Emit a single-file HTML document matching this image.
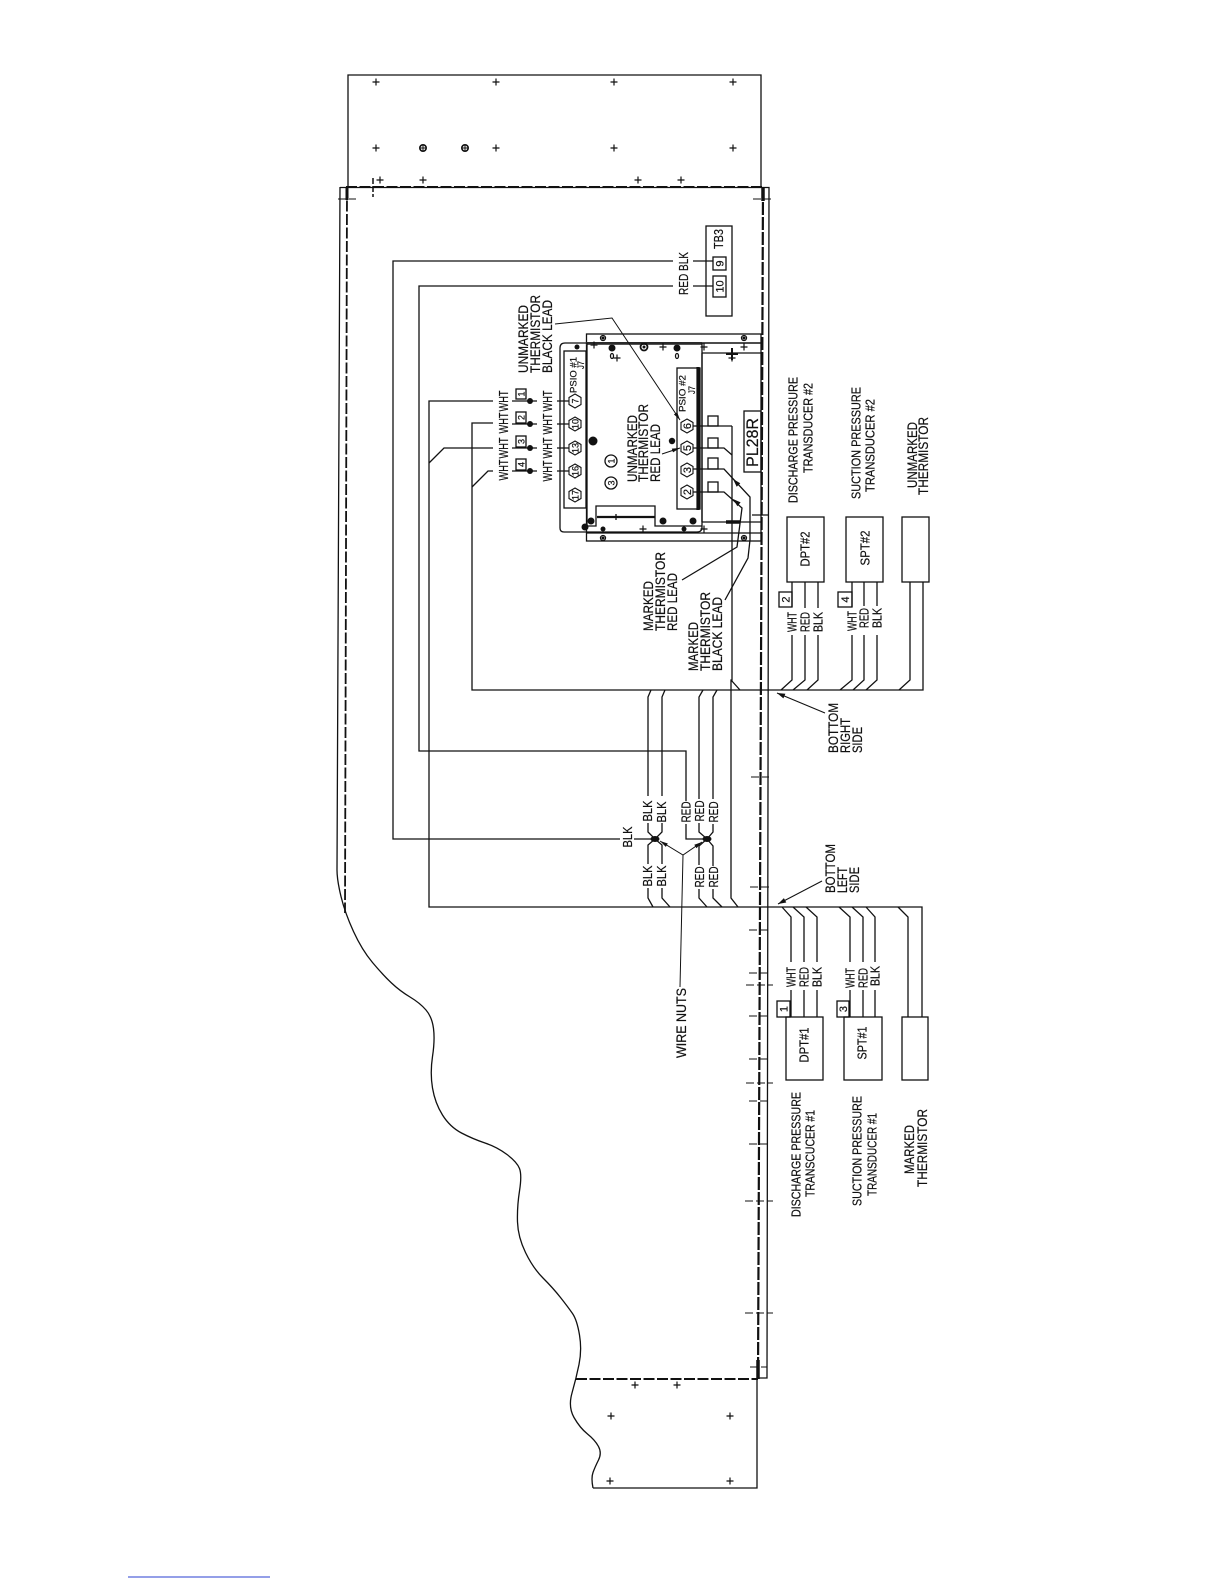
<!DOCTYPE html>
<html><head><meta charset="utf-8"><style>
html,body{margin:0;padding:0;background:#fff}
svg{display:block}
text{font-family:"Liberation Sans",sans-serif;fill:#111;stroke:#111;stroke-width:.2px}
.b{font-size:13.5px}.m{font-size:13px}.n{font-size:9px}.c{font-size:11px}
</style></head><body>
<svg width="1225" height="1585" viewBox="0 0 1225 1585" xmlns="http://www.w3.org/2000/svg">
<defs>
<path id="hx" d="M0,-7 L6,-3.5 V3.5 L0,7 L-6,3.5 V-3.5 Z" fill="#fff" stroke="#111" stroke-width="1.1"/>
<path id="pl" d="M-3.5,0H3.5M0,-3.5V3.5" stroke="#111" stroke-width="1.2" fill="none"/>
</defs>
<rect width="1225" height="1585" fill="#fff"/>
<g fill="none" stroke="#111" stroke-width="1.3">
<!-- top and bottom panels -->
<path d="M348,187V75H761V187"/>
<path d="M593,1488H757V1380"/>
<!-- main outlines -->
<path d="M340,187L337,870Q337,880 341,896.5Q345,913 353.5,931.5Q362,950 372.5,962.5Q383,975 391.5,983Q400,991 410,997Q420,1003 426,1010Q432,1017 433.5,1028.5Q435,1040 432.5,1056.5Q430,1073 432.5,1088Q435,1103 442.5,1115Q450,1127 461.5,1133Q473,1139 485,1143Q497,1147 507,1154.5Q517,1162 519.5,1168.5Q522,1175 519.5,1191Q517,1207 517.5,1222Q518,1237 525.5,1252.5Q533,1268 543,1278Q553,1288 560.5,1297.5Q568,1307 572.5,1313.5Q577,1320 579.5,1335Q582,1350 579,1364.5Q576,1379 572,1393Q568,1407 574,1417.5Q580,1428 587.5,1434Q595,1440 598.5,1446.5Q602,1453 598.5,1460Q595,1467 593,1472.5Q591,1478 593,1488"/>
<path d="M340,187.500H769L767,1378H758"/>
<path d="M347,187L345,913" stroke-width="1.8" stroke-dasharray="11 2.500"/>
<path d="M346,187H763" stroke-width="2" stroke-dasharray="11 2.500"/>
<path d="M763,187L758,1379" stroke-width="2.2" stroke-dasharray="13 2"/>
<path d="M576,1379H758" stroke-width="2" stroke-dasharray="11 2.500"/>
<path d="M763,187V201M758,1360V1379" stroke-width="3.500"/>
<path d="M347,187V200" stroke-width="3"/>
<!-- ticks -->
<g stroke-width="1.1" stroke-dasharray="8 3">
<path d="M373,178V197" stroke-width="1.500" stroke-dasharray="6 2"/>
<path d="M338,199H356M753,199H771"/>
<path d="M751,777H769M750,887H769M749,930H769M749,973H769M746,985H773"/>
<path d="M749,1016H769M749,1059H769M746,1083H773M749,1101H769M749,1144H769M745,1201H773M745,1313H773M750,1367H767"/>
</g>
<!-- TB3 -->
<rect x="706" y="226" width="26" height="90"/>
<rect x="713" y="257" width="13" height="13"/>
<rect x="713" y="276" width="13" height="21"/>
<path d="M713,261H693M673,261H393V839H620M634,839H648L655,839"/>
<path d="M713,286H693M673,286H419V751H686V801M686,824V839H707"/>
<!-- WHT wires -->
<path d="M493,401H429V907H922V1017"/>
<path d="M493,423H472V690H923V582"/>
<path d="M493,448H444L429,463"/>
<path d="M493,471H488L472,487"/>
<path d="M512,401H537M512,424H537M512,448H537M512,471H537"/>
<path d="M557,401H569M557,424H569M557,448H569M557,471H569"/>
<rect x="516" y="389" width="10" height="10"/>
<rect x="516" y="412" width="10" height="11"/>
<rect x="516" y="436" width="10" height="11"/>
<rect x="516" y="459" width="10" height="11"/>
<!-- splice wires -->
<path d="M651,690L648,697V796M648,823V832L655,839L662,832V823M662,796V697L665,690"/>
<path d="M655,839L648,845V864M648,888V898L653,907M655,839L662,845V864M662,888V898L670,907"/>
<path d="M703,690L699,697V799M699,823V832L707,839L713,832V824M713,799V697L717,690"/>
<path d="M707,839L699,846V865M699,889V898L707,907M707,839L713,846V866M713,889V898L722,907"/>
<path d="M732,426V680L731,680V898L738,907M731,680L740,690"/>
<!-- right side device wires (upper) -->
<path d="M792,582V607M792,635V680L781,690M805,582V608M805,635V680L793,690M818,582V608M818,635V680L807,690"/>
<path d="M852,582V607M852,635V680L840,690M864,582V606M864,635V680L853,690M877,582V606M877,635V680L866,690"/>
<path d="M910,582V680L899,690"/>
<!-- lower -->
<path d="M782,907L791,917V962M791,990V1017M793,907L804,917V962M804,990V1017M806,907L817,917V962M817,990V1017"/>
<path d="M839,907L850,917V962M850,990V1017M852,907L863,917V962M863,990V1017M866,907L875,917V962M875,990V1017"/>
<path d="M898,907L908,917V1017"/>
<!-- device boxes -->
<rect x="787" y="517" width="37" height="65"/>
<rect x="846" y="517" width="37" height="65"/>
<rect x="902" y="517" width="27" height="65"/>
<rect x="786" y="1017" width="37" height="63"/>
<rect x="844" y="1017" width="38" height="63"/>
<rect x="902" y="1017" width="26" height="63"/>
<rect x="779" y="592" width="13" height="15"/>
<rect x="838" y="592" width="14" height="15"/>
<rect x="777" y="1001" width="13" height="16"/>
<rect x="837" y="1001" width="12" height="16"/>
<!-- plate -->
<rect x="586.500" y="334" width="174.500" height="207"/>
<path d="M586,343H761" stroke-width="1.5"/>
<path d="M586,343.500H702" stroke="#555" stroke-width="3"/>
<path d="M702,353H761M702,353V522M702,522H761M586,533H761"/>
<path d="M702,343H565Q560,343 560,348V528Q560,532 564,532H697Q702,532 702,527V343"/>
<path d="M587,343V526H596V506H655V526H702"/>
<path d="M597,517H655" stroke-width="2.2"/>
<path d="M616,514V520M752,515H768"/>
<rect x="564" y="351" width="22" height="157"/>
<rect x="677" y="368" width="23" height="141"/>
<path d="M698,367V510" stroke-width="3.200"/>
<rect x="744" y="411" width="17" height="61"/>
<!-- terminals -->
<rect x="708" y="416" width="10" height="10"/>
<rect x="708" y="438" width="10" height="10"/>
<rect x="708" y="458" width="10" height="11"/>
<rect x="708" y="482" width="10" height="10"/>
<path d="M692,426H732"/>
<path d="M692,448H724L732,455"/>
<path d="M692,469H724L750,497V540L748,558L725,600"/>
<path d="M692,492H724L742,508L737,547L682,580"/>
<!-- leaders -->
<path d="M555,324L612,318L680,420" stroke-width="1"/>
<path d="M662,454L680,448" stroke-width="1"/>
<path d="M825,713L777,693M822,881L778,904" stroke-width="1.100"/>
<path d="M660,841L683,855L702,842M683,855L680,987" stroke-width="1"/>
<circle cx="611" cy="461" r="6"/>
<circle cx="611" cy="483" r="6"/>
<circle cx="603" cy="338" r="2.500"/><circle cx="744" cy="338" r="2.500"/>
<circle cx="603" cy="538" r="2.500"/><circle cx="744" cy="538" r="2.500"/>
<circle cx="644" cy="347" r="3.500" stroke-width="1.800"/>
<circle cx="423" cy="148" r="3.200" stroke-width="1.600"/><circle cx="465" cy="148" r="3.200" stroke-width="1.600"/>
<path d="M419.800,148H426.200M461.800,148H468.200M423,145V151M465,145V151" stroke-width="1"/>
<ellipse cx="612" cy="356" rx="1.500" ry="2.500"/><ellipse cx="677" cy="356" rx="1.500" ry="2.500"/>
</g>
<!-- crosses -->
<use href="#pl" x="376" y="82"/><use href="#pl" x="496" y="82"/><use href="#pl" x="614" y="82"/><use href="#pl" x="733" y="82"/>
<use href="#pl" x="376" y="148"/><use href="#pl" x="496" y="148"/><use href="#pl" x="614" y="148"/><use href="#pl" x="733" y="148"/>
<use href="#pl" x="380" y="180"/><use href="#pl" x="423" y="180"/><use href="#pl" x="638" y="180"/><use href="#pl" x="681" y="180"/>
<use href="#pl" x="635" y="1385"/><use href="#pl" x="677" y="1385"/>
<use href="#pl" x="611" y="1416"/><use href="#pl" x="730" y="1416"/>
<use href="#pl" x="610" y="1481"/><use href="#pl" x="730" y="1481"/>
<use href="#pl" x="594" y="345"/><use href="#pl" x="663" y="347"/><use href="#pl" x="704" y="347"/><use href="#pl" x="617" y="358"/><use href="#pl" x="744" y="347"/><use href="#pl" x="732" y="358"/>
<use href="#pl" x="643" y="529"/><use href="#pl" x="704" y="529"/>
<path d="M726,354H738M732,348V360" stroke="#111" stroke-width="2" fill="none"/>
<path d="M726,522H740" stroke="#111" stroke-width="3.500" fill="none"/>
<!-- dots -->
<g fill="#111">
<circle cx="530" cy="401" r="3"/><circle cx="530" cy="424" r="3"/><circle cx="530" cy="448" r="3"/><circle cx="530" cy="471" r="3"/>
<circle cx="593" cy="441" r="4.500"/><circle cx="672" cy="441" r="3.200"/>
<circle cx="577" cy="347" r="2.500"/><circle cx="612" cy="348" r="3.500"/><circle cx="677" cy="348" r="3.500"/>
<circle cx="644" cy="347" r="1.500"/>
<circle cx="591" cy="521" r="3.500"/><circle cx="585" cy="527" r="3.500"/><circle cx="663" cy="521" r="3.500"/><circle cx="693" cy="521" r="3.500"/>
<circle cx="603" cy="529" r="2.500"/><circle cx="684" cy="529" r="2.500"/>
<circle cx="603" cy="338" r="1.500"/><circle cx="744" cy="338" r="1.500"/><circle cx="603" cy="538" r="1.500"/><circle cx="744" cy="538" r="1.500"/>
<ellipse cx="655" cy="839" rx="4.500" ry="3"/><ellipse cx="707" cy="839" rx="4.500" ry="3"/>
<polygon points="680,420 677.2,412.2 673.900,414.4"/>
<polygon points="680,448 673,452.4 671.800,448.6"/>
<polygon points="777,693 785.4,693.800 783.400,698.400"/>
<polygon points="778,904 786.300,902.5 783.900,898.1"/>
<polygon points="660,841 667.800,843.5 665.800,846.900"/>
<polygon points="702,842 696.500,848.200 694.300,844.800"/>
<polygon points="733,479 740.300,483.300 736.700,486.700"/>
<polygon points="733,499 740.600,502.400 737.400,506.200"/>
</g>
<!-- hexes -->
<use href="#hx" x="575" y="401"/><use href="#hx" x="575" y="424"/><use href="#hx" x="575" y="448"/><use href="#hx" x="575" y="471"/><use href="#hx" x="575" y="495"/>
<use href="#hx" x="687" y="426"/><use href="#hx" x="687" y="448"/><use href="#hx" x="687" y="470"/><use href="#hx" x="687" y="492"/>
<!-- hex numbers -->
<g class="n">
<text transform="translate(578.500,401) rotate(-90)" text-anchor="middle">7</text>
<text transform="translate(578.500,424) rotate(-90)" text-anchor="middle">10</text>
<text transform="translate(578.500,448) rotate(-90)" text-anchor="middle">13</text>
<text transform="translate(578.500,471) rotate(-90)" text-anchor="middle">16</text>
<text transform="translate(578.500,495) rotate(-90)" text-anchor="middle">17</text>
<text transform="translate(691,426) rotate(-90)" text-anchor="middle" font-size="11">6</text>
<text transform="translate(691,448) rotate(-90)" text-anchor="middle" font-size="11">5</text>
<text transform="translate(691,470) rotate(-90)" text-anchor="middle" font-size="11">3</text>
<text transform="translate(691,492) rotate(-90)" text-anchor="middle" font-size="11">2</text>
<text transform="translate(614.500,461) rotate(-90)" text-anchor="middle">1</text>
<text transform="translate(614.500,483) rotate(-90)" text-anchor="middle">3</text>
<text transform="translate(524.500,394) rotate(-90)" text-anchor="middle">1</text>
<text transform="translate(524.500,417.500) rotate(-90)" text-anchor="middle">2</text>
<text transform="translate(524.500,441.500) rotate(-90)" text-anchor="middle">3</text>
<text transform="translate(524.500,464.500) rotate(-90)" text-anchor="middle">4</text>
<text transform="translate(576.500,375) rotate(-90)" text-anchor="middle" textLength="36" lengthAdjust="spacingAndGlyphs">PSIO #1</text>
<text transform="translate(584,365) rotate(-90)" text-anchor="middle" textLength="8" lengthAdjust="spacingAndGlyphs">J7</text>
<text transform="translate(685.500,393.500) rotate(-90)" text-anchor="middle" textLength="37" lengthAdjust="spacingAndGlyphs">PSIO #2</text>
<text transform="translate(695,390) rotate(-90)" text-anchor="middle" textLength="8" lengthAdjust="spacingAndGlyphs">J7</text>
</g>
<g class="c">
<text transform="translate(723.500,263.500) rotate(-90)" text-anchor="middle">9</text>
<text transform="translate(723.500,286.500) rotate(-90)" text-anchor="middle">10</text>
<text transform="translate(789.500,599.500) rotate(-90)" text-anchor="middle">2</text>
<text transform="translate(849,599.500) rotate(-90)" text-anchor="middle">4</text>
<text transform="translate(787.500,1009) rotate(-90)" text-anchor="middle">1</text>
<text transform="translate(847,1009) rotate(-90)" text-anchor="middle">3</text>
</g>
<!-- small labels -->
<g class="m">
<text transform="translate(723,239) rotate(-90)" text-anchor="middle" textLength="20" lengthAdjust="spacingAndGlyphs">TB3</text>
<text transform="translate(688,273.500) rotate(-90)" text-anchor="middle" textLength="43" lengthAdjust="spacingAndGlyphs">RED BLK</text>
<text transform="translate(632,837) rotate(-90)" text-anchor="middle" textLength="21" lengthAdjust="spacingAndGlyphs">BLK</text>

<text transform="translate(508,401) rotate(-90)" text-anchor="middle" textLength="21" lengthAdjust="spacingAndGlyphs">WHT</text>
<text transform="translate(508,423) rotate(-90)" text-anchor="middle" textLength="21" lengthAdjust="spacingAndGlyphs">WHT</text>
<text transform="translate(508,448) rotate(-90)" text-anchor="middle" textLength="21" lengthAdjust="spacingAndGlyphs">WHT</text>
<text transform="translate(508,470) rotate(-90)" text-anchor="middle" textLength="21" lengthAdjust="spacingAndGlyphs">WHT</text>
<text transform="translate(552,401) rotate(-90)" text-anchor="middle" textLength="21" lengthAdjust="spacingAndGlyphs">WHT</text>
<text transform="translate(552,424) rotate(-90)" text-anchor="middle" textLength="21" lengthAdjust="spacingAndGlyphs">WHT</text>
<text transform="translate(552,448) rotate(-90)" text-anchor="middle" textLength="21" lengthAdjust="spacingAndGlyphs">WHT</text>
<text transform="translate(552,471) rotate(-90)" text-anchor="middle" textLength="21" lengthAdjust="spacingAndGlyphs">WHT</text>

<text transform="translate(652,811) rotate(-90)" text-anchor="middle" textLength="21" lengthAdjust="spacingAndGlyphs">BLK</text>
<text transform="translate(666,812) rotate(-90)" text-anchor="middle" textLength="21" lengthAdjust="spacingAndGlyphs">BLK</text>
<text transform="translate(690.500,812) rotate(-90)" text-anchor="middle" textLength="21" lengthAdjust="spacingAndGlyphs">RED</text>
<text transform="translate(704,811) rotate(-90)" text-anchor="middle" textLength="21" lengthAdjust="spacingAndGlyphs">RED</text>
<text transform="translate(718,812) rotate(-90)" text-anchor="middle" textLength="21" lengthAdjust="spacingAndGlyphs">RED</text>
<text transform="translate(652,876) rotate(-90)" text-anchor="middle" textLength="21" lengthAdjust="spacingAndGlyphs">BLK</text>
<text transform="translate(666,876) rotate(-90)" text-anchor="middle" textLength="21" lengthAdjust="spacingAndGlyphs">BLK</text>
<text transform="translate(704,877) rotate(-90)" text-anchor="middle" textLength="21" lengthAdjust="spacingAndGlyphs">RED</text>
<text transform="translate(718,877) rotate(-90)" text-anchor="middle" textLength="21" lengthAdjust="spacingAndGlyphs">RED</text>

<text transform="translate(796.500,622) rotate(-90)" text-anchor="middle" textLength="20" lengthAdjust="spacingAndGlyphs">WHT</text>
<text transform="translate(809.500,622) rotate(-90)" text-anchor="middle" textLength="20" lengthAdjust="spacingAndGlyphs">RED</text>
<text transform="translate(822.500,622) rotate(-90)" text-anchor="middle" textLength="20" lengthAdjust="spacingAndGlyphs">BLK</text>
<text transform="translate(856.500,621) rotate(-90)" text-anchor="middle" textLength="20" lengthAdjust="spacingAndGlyphs">WHT</text>
<text transform="translate(868.500,618) rotate(-90)" text-anchor="middle" textLength="20" lengthAdjust="spacingAndGlyphs">RED</text>
<text transform="translate(881.500,618) rotate(-90)" text-anchor="middle" textLength="20" lengthAdjust="spacingAndGlyphs">BLK</text>
<text transform="translate(795.500,977) rotate(-90)" text-anchor="middle" textLength="20" lengthAdjust="spacingAndGlyphs">WHT</text>
<text transform="translate(808.500,977) rotate(-90)" text-anchor="middle" textLength="20" lengthAdjust="spacingAndGlyphs">RED</text>
<text transform="translate(821.500,977) rotate(-90)" text-anchor="middle" textLength="20" lengthAdjust="spacingAndGlyphs">BLK</text>
<text transform="translate(854.500,978) rotate(-90)" text-anchor="middle" textLength="20" lengthAdjust="spacingAndGlyphs">WHT</text>
<text transform="translate(867.500,978) rotate(-90)" text-anchor="middle" textLength="20" lengthAdjust="spacingAndGlyphs">RED</text>
<text transform="translate(879.500,976) rotate(-90)" text-anchor="middle" textLength="20" lengthAdjust="spacingAndGlyphs">BLK</text>

<text transform="translate(809.500,549) rotate(-90)" text-anchor="middle" textLength="35" lengthAdjust="spacingAndGlyphs">DPT#2</text>
<text transform="translate(869.500,548) rotate(-90)" text-anchor="middle" textLength="35" lengthAdjust="spacingAndGlyphs">SPT#2</text>
<text transform="translate(808.500,1045) rotate(-90)" text-anchor="middle" textLength="35" lengthAdjust="spacingAndGlyphs">DPT#1</text>
<text transform="translate(866.500,1043) rotate(-90)" text-anchor="middle" textLength="33" lengthAdjust="spacingAndGlyphs">SPT#1</text>

<text transform="translate(797.500,440) rotate(-90)" text-anchor="middle" textLength="126" lengthAdjust="spacingAndGlyphs">DISCHARGE  PRESSURE</text>
<text transform="translate(812.500,428) rotate(-90)" text-anchor="middle" textLength="90" lengthAdjust="spacingAndGlyphs">TRANSDUCER #2</text>
<text transform="translate(860.500,443) rotate(-90)" text-anchor="middle" textLength="112" lengthAdjust="spacingAndGlyphs">SUCTION  PRESSURE</text>
<text transform="translate(874.500,445.500) rotate(-90)" text-anchor="middle" textLength="93" lengthAdjust="spacingAndGlyphs">TRANSDUCER #2</text>
<text transform="translate(800.500,1154.500) rotate(-90)" text-anchor="middle" textLength="125" lengthAdjust="spacingAndGlyphs">DISCHARGE  PRESSURE</text>
<text transform="translate(814.500,1153.500) rotate(-90)" text-anchor="middle" textLength="87" lengthAdjust="spacingAndGlyphs">TRANSCUCER #1</text>
<text transform="translate(861.500,1151) rotate(-90)" text-anchor="middle" textLength="110" lengthAdjust="spacingAndGlyphs">SUCTION  PRESSURE</text>
<text transform="translate(876.500,1154.500) rotate(-90)" text-anchor="middle" textLength="83" lengthAdjust="spacingAndGlyphs">TRANSDUCER #1</text>
</g>
<!-- big labels -->
<g class="b">
<text transform="translate(528,339) rotate(-90)" text-anchor="middle" textLength="68" lengthAdjust="spacingAndGlyphs">UNMARKED</text>
<text transform="translate(540,334) rotate(-90)" text-anchor="middle" textLength="78" lengthAdjust="spacingAndGlyphs">THERMISTOR</text>
<text transform="translate(552,336.500) rotate(-90)" text-anchor="middle" textLength="73" lengthAdjust="spacingAndGlyphs">BLACK LEAD</text>
<text transform="translate(637,448.500) rotate(-90)" text-anchor="middle" textLength="67" lengthAdjust="spacingAndGlyphs">UNMARKED</text>
<text transform="translate(648,443) rotate(-90)" text-anchor="middle" textLength="78" lengthAdjust="spacingAndGlyphs">THERMISTOR</text>
<text transform="translate(660,453) rotate(-90)" text-anchor="middle" textLength="58" lengthAdjust="spacingAndGlyphs">RED LEAD</text>
<text transform="translate(653,606) rotate(-90)" text-anchor="middle" textLength="50" lengthAdjust="spacingAndGlyphs">MARKED</text>
<text transform="translate(665,591.500) rotate(-90)" text-anchor="middle" textLength="79" lengthAdjust="spacingAndGlyphs">THERMISTOR</text>
<text transform="translate(677,602) rotate(-90)" text-anchor="middle" textLength="58" lengthAdjust="spacingAndGlyphs">RED LEAD</text>
<text transform="translate(698,646.500) rotate(-90)" text-anchor="middle" textLength="49" lengthAdjust="spacingAndGlyphs">MARKED</text>
<text transform="translate(710,631.500) rotate(-90)" text-anchor="middle" textLength="79" lengthAdjust="spacingAndGlyphs">THERMISTOR</text>
<text transform="translate(722,634) rotate(-90)" text-anchor="middle" textLength="74" lengthAdjust="spacingAndGlyphs">BLACK LEAD</text>
<text transform="translate(838,728) rotate(-90)" text-anchor="middle" textLength="50" lengthAdjust="spacingAndGlyphs">BOTTOM</text>
<text transform="translate(850,735.500) rotate(-90)" text-anchor="middle" textLength="35" lengthAdjust="spacingAndGlyphs">RIGHT</text>
<text transform="translate(862,740) rotate(-90)" text-anchor="middle" textLength="26" lengthAdjust="spacingAndGlyphs">SIDE</text>
<text transform="translate(835,868.500) rotate(-90)" text-anchor="middle" textLength="49" lengthAdjust="spacingAndGlyphs">BOTTOM</text>
<text transform="translate(847,880) rotate(-90)" text-anchor="middle" textLength="26" lengthAdjust="spacingAndGlyphs">LEFT</text>
<text transform="translate(859,880) rotate(-90)" text-anchor="middle" textLength="26" lengthAdjust="spacingAndGlyphs">SIDE</text>
<text transform="translate(686,1023) rotate(-90)" text-anchor="middle" textLength="70" lengthAdjust="spacingAndGlyphs">WIRE NUTS</text>
<text transform="translate(914,1149.500) rotate(-90)" text-anchor="middle" textLength="49" lengthAdjust="spacingAndGlyphs">MARKED</text>
<text transform="translate(927,1148) rotate(-90)" text-anchor="middle" textLength="78" lengthAdjust="spacingAndGlyphs">THERMISTOR</text>
<text transform="translate(917,455) rotate(-90)" text-anchor="middle" textLength="66" lengthAdjust="spacingAndGlyphs">UNMARKED</text>
<text transform="translate(928,456) rotate(-90)" text-anchor="middle" textLength="78" lengthAdjust="spacingAndGlyphs">THERMISTOR</text>
<text transform="translate(758,442.500) rotate(-90)" text-anchor="middle" textLength="49" lengthAdjust="spacingAndGlyphs" font-size="16.5">PL28R</text>
</g>
<path d="M128,1577H270" stroke="#2a3fd0" stroke-width="1"/>
</svg>
</body></html>
